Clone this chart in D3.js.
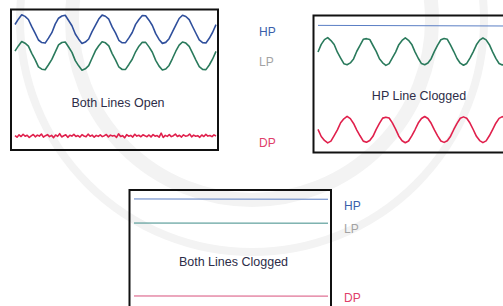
<!DOCTYPE html>
<html>
<head>
<meta charset="utf-8">
<script src="https://cdn.jsdelivr.net/npm/d3@7"></script>
<style>
  html, body { margin: 0; padding: 0; background: #fff; }
  svg { display: block; }
</style>
</head>
<body>
<div id="chart"></div>
<script>
// ── data (signal levels, 0–100 per panel) ───────────────────
const labels = ['HP', 'LP', 'DP'];
const titles = ['Both Lines Open', 'HP Line Clogged', 'Both Lines Clogged'];

// Panel 1 · both lines open
const p1HP = [
  89.3, 93.1, 96.2, 95.1, 92.9, 87.8, 83.2, 78.3, 76.5, 76.1, 79.6, 83.5,
  89.6, 93.8, 95.4, 95.9, 92.2, 88.4, 82.6, 78.9, 75.8, 76.8, 79.0, 84.3,
  88.7, 93.2, 96.0, 95.2, 93.1, 87.6, 83.4, 78.1, 76.3, 76.4, 79.8, 83.6,
  89.4, 92.9, 95.7, 95.6, 92.4, 88.6, 82.8, 78.7, 75.9, 76.6, 79.2, 84.0,
  88.9, 93.6, 95.9, 95.0, 92.8, 87.9, 83.1, 78.4, 76.4, 76.2, 79.5, 83.8,
  89.2];
const p1LP = [
  70.4, 74.1, 77.2, 76.0, 73.9, 68.8, 64.3, 59.2, 57.5, 57.1, 60.7, 64.5,
  69.7, 74.8, 76.5, 76.9, 73.3, 69.5, 63.6, 59.9, 56.8, 57.8, 60.0, 65.3,
  70.6, 74.2, 77.0, 76.3, 74.1, 68.6, 64.2, 59.1, 57.3, 57.4, 60.9, 64.6,
  69.9, 73.9, 76.7, 76.6, 73.4, 69.6, 63.8, 59.7, 56.9, 57.6, 60.2, 65.1,
  70.3, 74.6, 76.9, 76.1, 73.8, 68.9, 64.0, 59.4, 57.4, 57.2, 60.5, 64.8,
  70.2];
const p1DP = [
  10.3, 9.1, 10.8, 9.6, 11.2, 9.8, 10.5, 8.9, 10.1, 11.0,
  9.4, 10.6, 9.9, 11.4, 9.2, 10.2, 10.9, 9.5, 10.4, 8.8,
  10.7, 9.7, 11.6, 9.3, 10.1, 10.8, 9.0, 10.5, 9.9, 11.1,
  9.6, 10.3, 9.2, 10.9, 10.0, 9.4, 11.3, 9.8, 10.6, 9.1,
  10.4, 9.7, 10.8, 9.5, 10.2, 11.0, 9.3, 10.6, 9.9, 10.3,
  9.0, 11.5, 9.6, 10.2, 8.7, 10.9, 9.8, 10.4, 9.2, 11.2,
  9.9, 10.5, 9.4, 10.8, 10.1, 9.5, 10.7, 9.3, 11.0, 9.8,
  10.3, 9.1, 12.0, 8.9, 10.4, 9.7, 10.9, 9.5, 10.2, 11.3,
  9.6, 10.5, 9.2, 10.8, 9.9, 10.1, 11.4, 9.4, 10.6, 9.8,
  10.2, 9.0, 10.7, 9.6, 11.1, 9.9, 10.3, 9.5, 10.8, 10.0];

// Panel 2 · HP line clogged
const p2HP = [92.8, 92.3];
const p2LP = [
  73.4, 78.9, 82.4, 83.9, 81.7, 78.8, 73.2, 68.9, 64.8, 64.1, 65.4, 68.3,
  73.9, 78.2, 82.6, 83.1, 82.5, 78.1, 73.8, 68.4, 65.5, 63.6, 64.9, 69.0,
  73.3, 78.7, 81.8, 83.7, 81.9, 78.9, 73.5, 68.8, 64.9, 64.0, 65.3, 68.5,
  73.8, 78.4, 82.3, 83.2, 82.6, 78.3, 73.7, 68.6, 65.2, 63.7, 65.0, 68.9,
  73.5, 78.6, 82.0, 83.6, 82.2, 78.7, 73.4, 68.7, 65.0, 63.9, 65.2, 68.6,
  73.7];
const p2DP = [
  16.9, 11.7, 8.8, 7.0, 8.3, 12.3, 16.5, 21.7, 24.6, 26.4, 24.7, 21.2,
  16.4, 12.2, 8.3, 7.5, 8.7, 11.8, 16.9, 21.2, 25.1, 25.8, 25.2, 21.6,
  17.0, 11.9, 8.6, 7.1, 8.4, 12.1, 16.6, 21.5, 24.8, 26.3, 24.8, 21.3,
  16.5, 12.1, 8.4, 7.4, 8.6, 11.9, 16.8, 21.3, 25.0, 26.0, 25.0, 21.5,
  16.8, 11.8, 8.7, 7.2, 8.5, 12.2, 16.7, 21.4, 24.9, 26.2, 24.9, 21.4,
  16.6];

// Panel 3 · both lines clogged
const p3HP = [93.6, 93.4];
const p3LP = [76.4, 76.3];
const p3DP = [24.3, 24.2];

// ── canvas ──────────────────────────────────────────────────
const W = 503, H = 306;
const svg = d3.select('#chart').append('svg').attr('width', W).attr('height', H);

// very faint seal watermark behind everything
const wm = svg.append('g').attr('fill', 'none').attr('stroke', '#f3f3f3');
wm.append('circle').attr('cx', 252).attr('cy', 20).attr('r', 232).attr('stroke-width', 8);
wm.append('circle').attr('cx', 252).attr('cy', 20).attr('r', 180).attr('stroke-width', 14);

const C = {
  hp: '#2f4f9c', lp: '#2a7a5c', dp: '#e0204c',
  hpFlat: '#5a7ec4', lpFlat: '#3d8c88', dpFlat: '#d9507c',
  text: '#2d2d48'
};
const labelColor = { HP: '#3a5faa', LP: '#a3a3a3', DP: '#e0406a' };

function panel(p) {
  const g = svg.append('g');
  const y = d3.scaleLinear().domain([0, 100]).range([p.bottom, p.top]);

  p.series.forEach(s => {
    const x = d3.scaleLinear().domain([0, s.values.length - 1]).range(s.xr);
    const line = d3.line().x((d, i) => x(i)).y(d => y(d));
    g.append('path').datum(s.values)
      .attr('d', line)
      .attr('fill', 'none')
      .attr('stroke', s.color)
      .attr('stroke-width', s.w)
      .attr('stroke-linejoin', 'round');
  });

  g.append('rect')
    .attr('x', p.left).attr('y', p.top)
    .attr('width', p.right - p.left).attr('height', p.bottom - p.top)
    .attr('fill', 'none').attr('stroke', '#111').attr('stroke-width', 2);

  g.append('text')
    .attr('x', p.tx).attr('y', p.ty)
    .attr('text-anchor', 'middle')
    .style('font', '12.5px "Liberation Sans", Arial, sans-serif')
    .attr('fill', C.text)
    .text(p.title);

  p.labels.forEach(l => {
    g.append('text')
      .attr('x', l.x).attr('y', l.y)
      .style('font', '12px "Liberation Sans", Arial, sans-serif')
      .attr('fill', labelColor[l.name])
      .text(l.name);
  });
}

panel({
  left: 11, right: 218, top: 9.5, bottom: 150,
  title: titles[0], tx: 118, ty: 107,
  series: [
    { values: p1HP, xr: [15, 216], color: C.hp, w: 1.6 },
    { values: p1LP, xr: [15, 216], color: C.lp, w: 1.6 },
    { values: p1DP, xr: [15, 216], color: C.dp, w: 1.6 }
  ],
  labels: [
    { name: labels[0], x: 259, y: 36 },
    { name: labels[1], x: 259, y: 66 },
    { name: labels[2], x: 259, y: 146.5 }
  ]
});

panel({
  left: 313.5, right: 520, top: 15.5, bottom: 152.5,
  title: titles[1], tx: 419, ty: 100,
  series: [
    { values: p2HP, xr: [318, 520], color: C.hpFlat, w: 1 },
    { values: p2LP, xr: [318, 512], color: C.lp, w: 1.6 },
    { values: p2DP, xr: [318, 512], color: C.dp, w: 1.6 }
  ],
  labels: []
});

panel({
  left: 129.5, right: 331, top: 190, bottom: 330,
  title: titles[2], tx: 233.5, ty: 266,
  series: [
    { values: p3HP, xr: [134, 328], color: C.hpFlat, w: 1 },
    { values: p3LP, xr: [134, 328], color: C.lpFlat, w: 1 },
    { values: p3DP, xr: [134, 328], color: C.dpFlat, w: 1 }
  ],
  labels: [
    { name: labels[0], x: 344, y: 209.5 },
    { name: labels[1], x: 344, y: 233 },
    { name: labels[2], x: 344, y: 302 }
  ]
});
</script>
</body>
</html>
